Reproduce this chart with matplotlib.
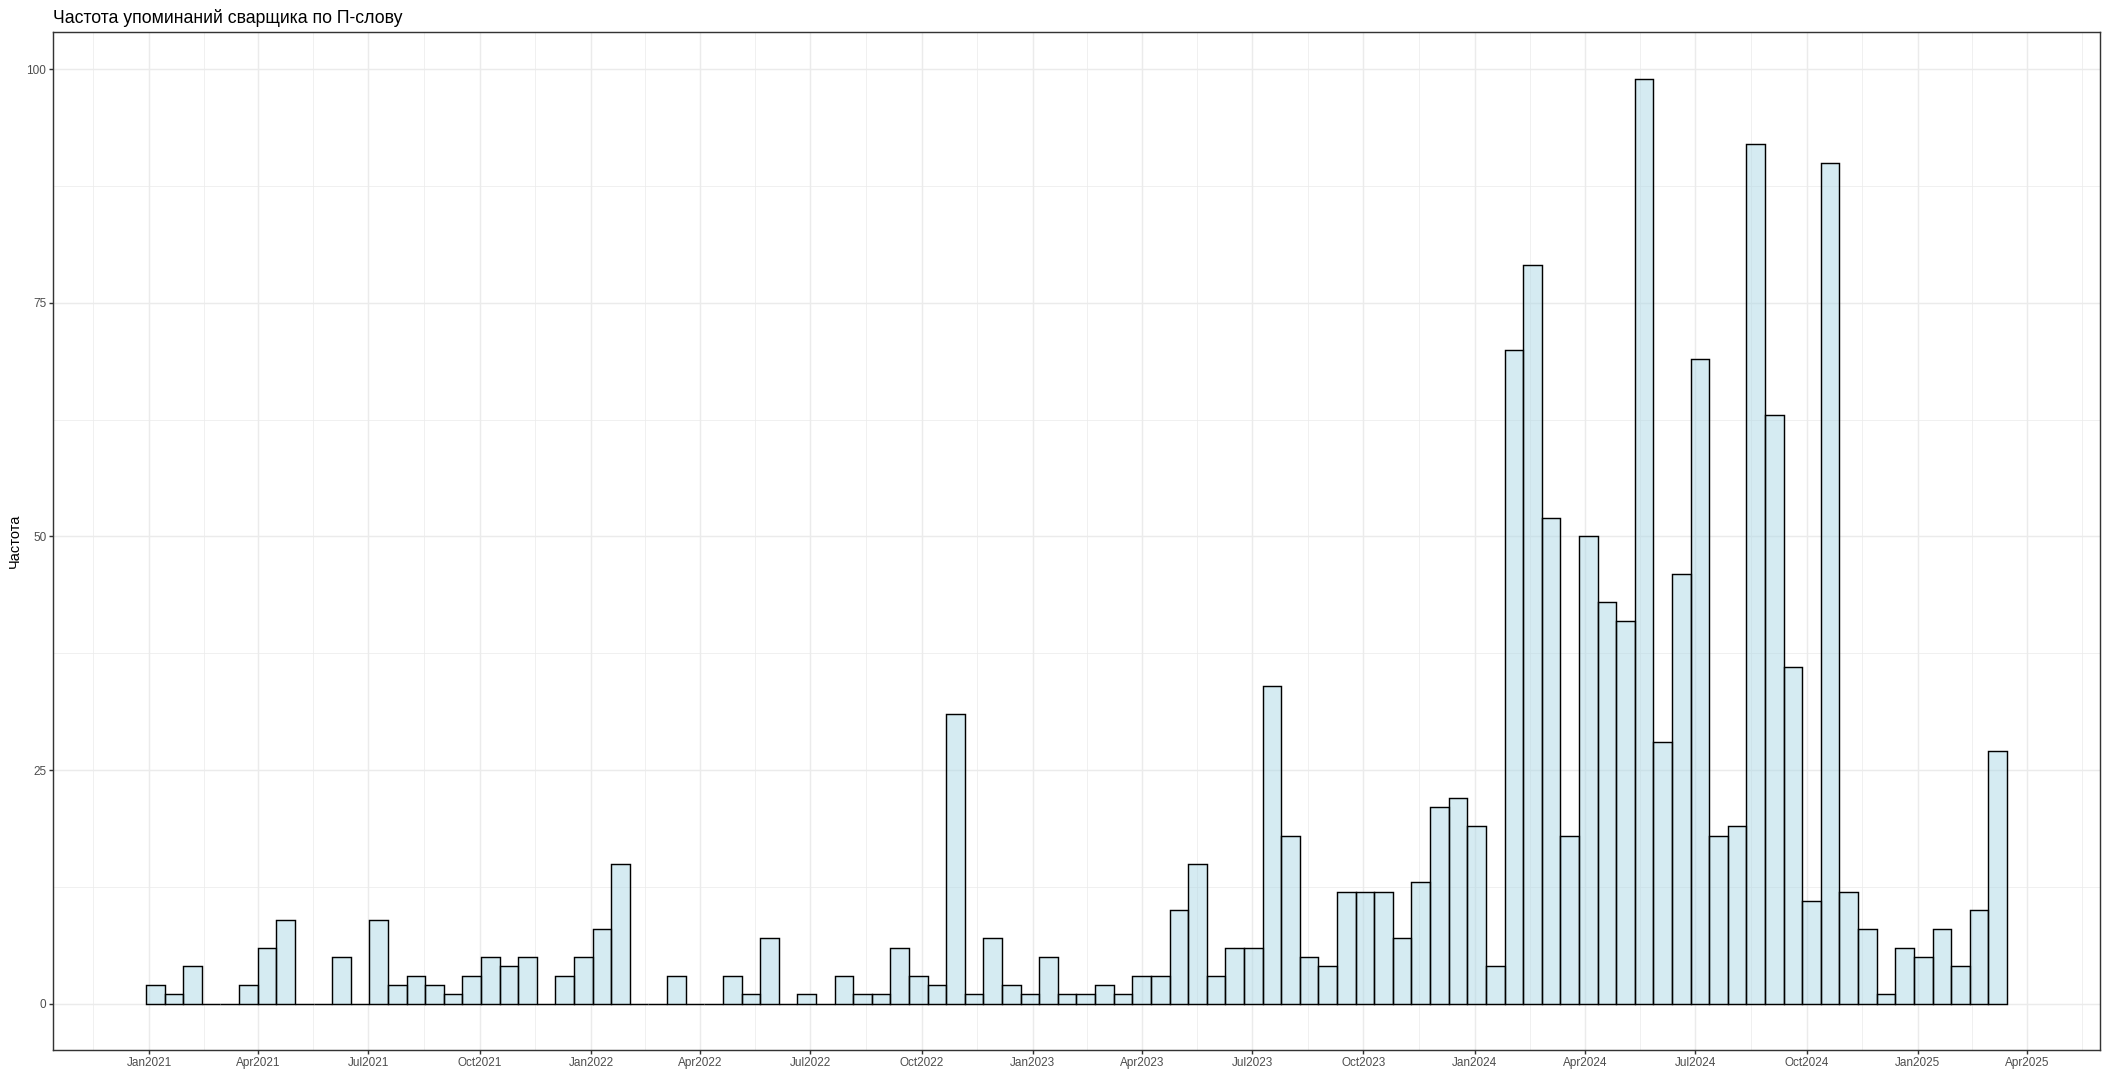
import numpy as np
import pandas as pd
import matplotlib
matplotlib.use("Agg")
import matplotlib.pyplot as plt
import matplotlib.dates as mdates
from matplotlib.ticker import FixedLocator

# histogram counts, 100 bins from the first to the last mention
counts = [2, 1, 4, 0, 0, 2, 6, 9, 0, 0, 5, 0, 9, 2, 3, 2, 1, 3, 5, 4, 5, 0, 3, 5,
          8, 15, 0, 0, 3, 0, 0, 3, 1, 7, 0, 1, 0, 3, 1, 1, 6, 3, 2, 31, 1, 7, 2, 1, 5, 1, 1, 2,
          1, 3, 3, 10, 15, 3, 6, 6, 34, 18, 5, 4, 12, 12, 12, 7, 13, 21, 22, 19, 4,
          70, 79, 52, 18, 50, 43, 41, 99,
          28, 46, 69, 18, 19, 92, 63, 36, 11, 90, 12, 8, 1, 6, 5, 8, 4, 10, 27]
first_date = "2020-12-29 12:00"
last_date = "2025-03-15 12:00"
y_ticks = [0, 25, 50, 75, 100]

title = "Частота упоминаний сварщика по П-слову"
y_label = "Частота"

plt.rcParams['font.family'] = ['Liberation Sans', 'DejaVu Sans']

W, H, DPI = 2108, 1076, 96
fig = plt.figure(figsize=(W / DPI, H / DPI), dpi=DPI)
ax = fig.add_axes([53 / W, 26 / H, (2100 - 53) / W, (1050 - 32.3) / H])

lo = mdates.date2num(pd.Timestamp(first_date))
hi = mdates.date2num(pd.Timestamp(last_date))
edges = np.linspace(lo, hi, len(counts) + 1)
binw = edges[1] - edges[0]

ax.bar(edges[:-1], counts, width=binw, align='edge',
       facecolor=(0.678, 0.847, 0.902, 0.5), edgecolor='black',
       linewidth=1.07, zorder=3)

pad = 0.05 * (hi - lo)
ax.set_xlim(lo - pad, hi + pad)
ymax = max(counts)
ax.set_ylim(-0.05 * ymax, ymax * 1.05)

# major breaks every quarter, minor halfway between
quarters = pd.date_range("2020-10-01", "2025-07-01", freq="QS")
qnum = mdates.date2num(quarters)
mids = (qnum[:-1] + qnum[1:]) / 2
ax.xaxis.set_major_locator(mdates.MonthLocator(bymonth=[1, 4, 7, 10]))
ax.xaxis.set_major_formatter(mdates.DateFormatter("%b%Y"))
ax.xaxis.set_minor_locator(FixedLocator(mids))
ax.set_yticks(y_ticks)
ax.yaxis.set_minor_locator(FixedLocator([12.5, 37.5, 62.5, 87.5]))

ax.grid(which='major', color='#EBEBEB', linewidth=1.07, zorder=0)
ax.grid(which='minor', color='#EBEBEB', linewidth=0.55, zorder=0)
ax.set_axisbelow(True)

ax.tick_params(which='major', length=2.75, width=1.07, color='#333333',
               labelsize=8.8, labelcolor='#4D4D4D', pad=2.2)
ax.tick_params(which='minor', length=0)
for s in ax.spines.values():
    s.set_color('#333333')
    s.set_linewidth(1.07)
    s.set_zorder(5)

fig.text(53 / W, 1 - 23 / H, title, fontsize=13.2, ha='left', va='baseline')
fig.text(15 / W, (26 + (1050 - 32.3) / 2) / H, y_label, fontsize=11,
         rotation=90, ha='center', va='center')

fig.savefig("out.png", dpi=DPI, facecolor='white')
